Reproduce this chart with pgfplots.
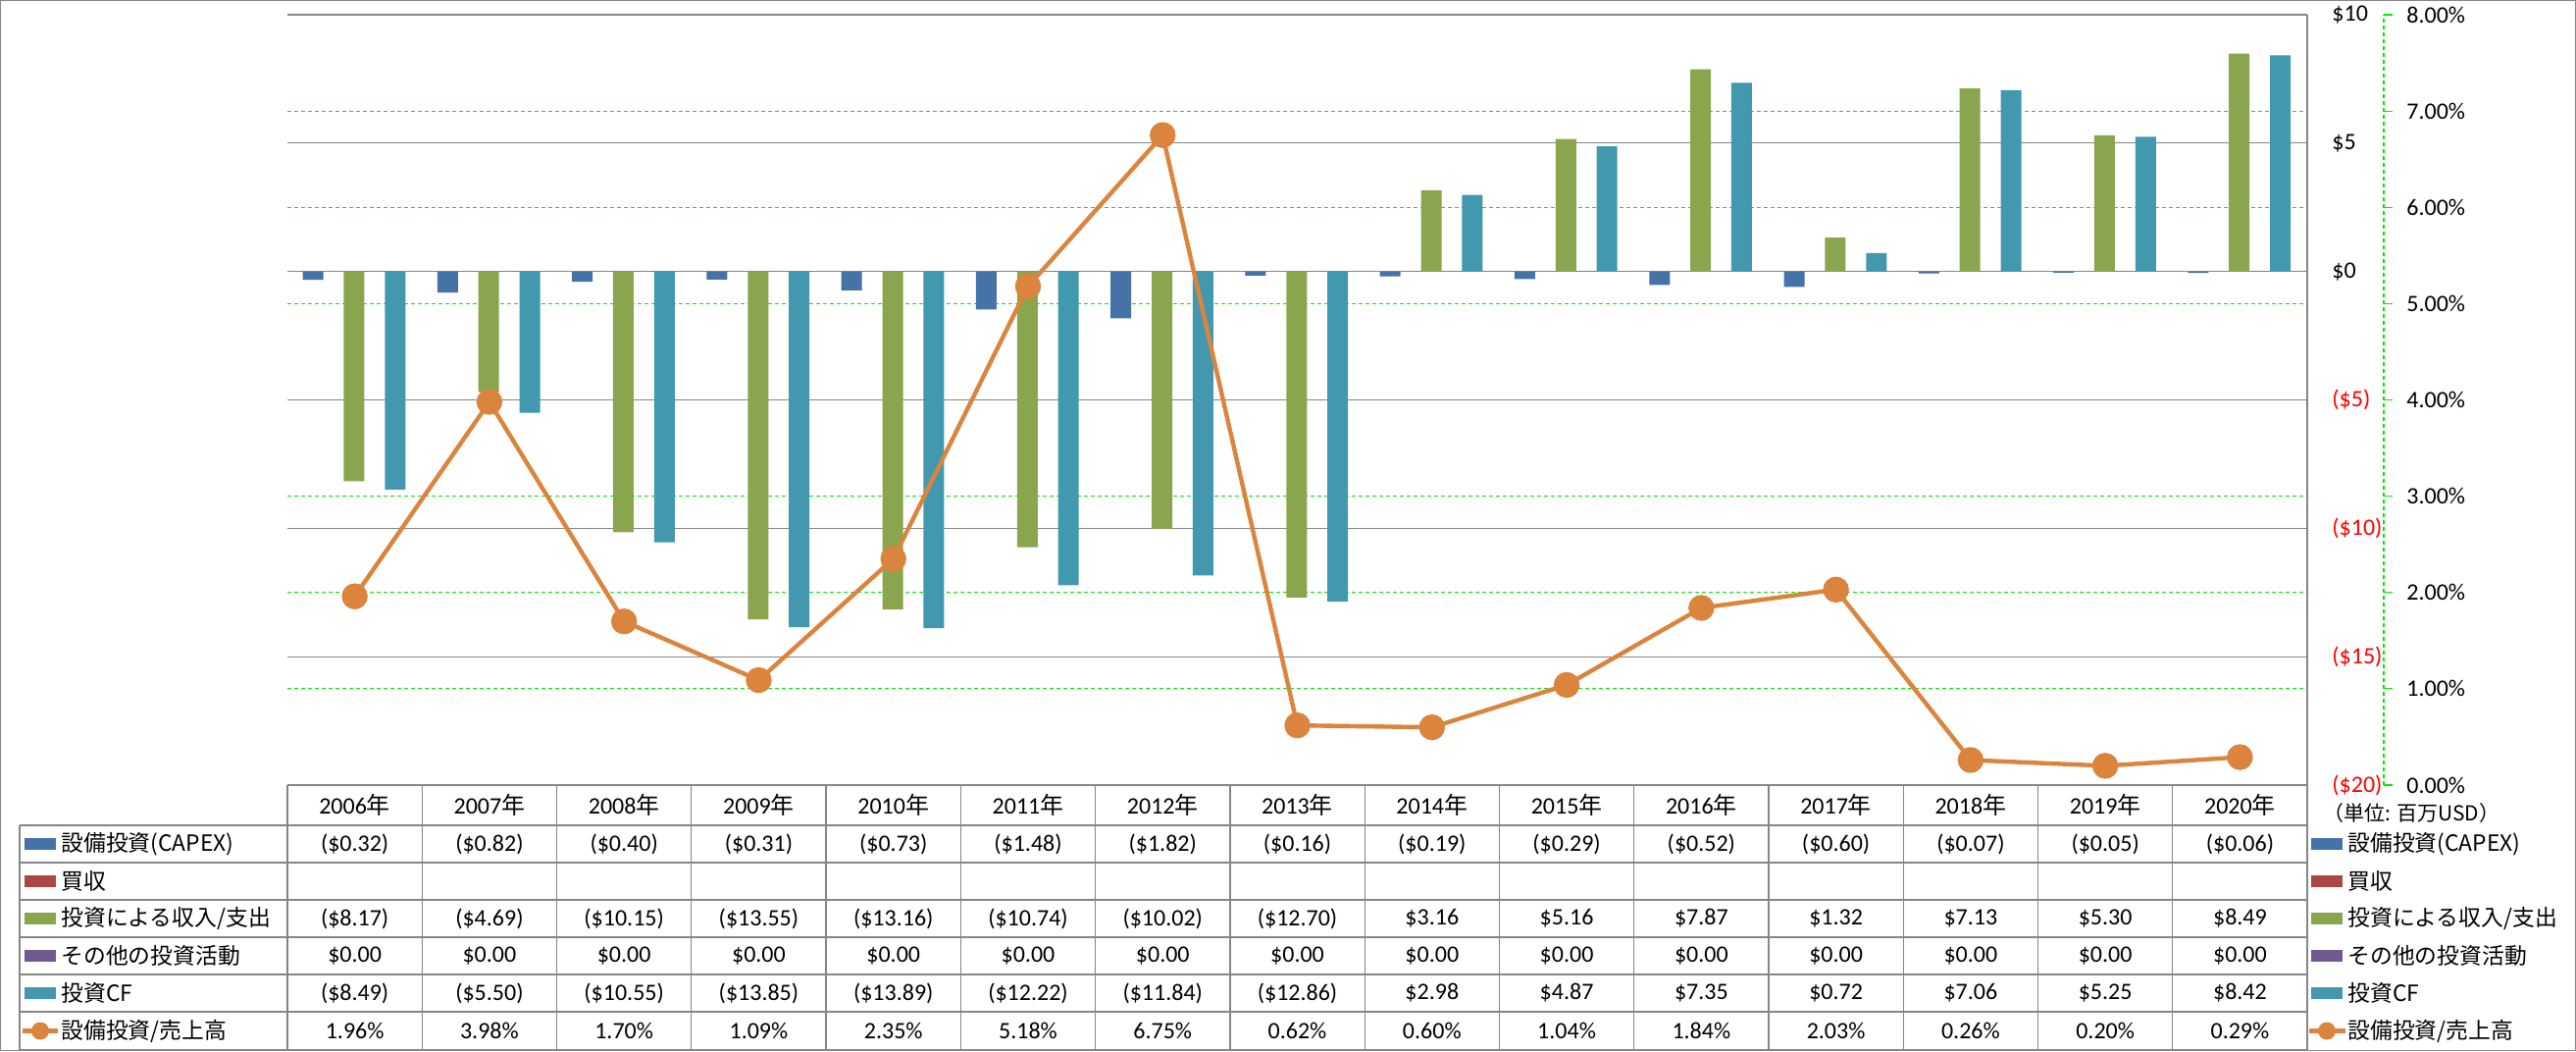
\documentclass[border=0pt]{standalone}
\usepackage{fontspec}
\setmainfont{Carlito}
\newfontfamily\jp{Noto Sans CJK JP}
\usepackage{pgfplots}
\pgfplotsset{compat=1.18}
\definecolor{cCapex}{HTML}{4572A7}
\definecolor{cAcq}{HTML}{AA4643}
\definecolor{cInv}{HTML}{89A54E}
\definecolor{cOth}{HTML}{71588F}
\definecolor{cCF}{HTML}{4198AF}
\definecolor{cLine}{HTML}{DB843D}
\definecolor{gridgray}{RGB}{134,134,134}
\definecolor{gline}{RGB}{0,235,0}
\newcommand\fs{\fontsize{12}{14.4}\selectfont}
\newcommand\lfs{\jp\fontsize{11.4}{13.7}\selectfont}
\newcommand\tabrow[2]{\foreach \v [count=\k from 0] in {#2} {\node[font=\fs, inner sep=0pt] at ({293+137.27*(\k+0.5)},#1) {\v};}}
\begin{document}
\begin{tikzpicture}
\begin{axis}[
 scale only axis, width=1029.5pt, height=392.5pt,
 at={(146.5pt,-400pt)}, anchor=south west,
 xmin=-0.5, xmax=14.5, ymin=-20, ymax=10,
 axis x line=none, axis y line*=right,
 y axis line style={draw=gridgray, line width=0.6pt},
 ytick={-20,-15,-10,-5,0,5,10},
 yticklabels={{\color{red}(\$20)},{\color{red}(\$15)},{\color{red}(\$10)},{\color{red}(\$5)},\$0,\$5,\$10},
 yticklabel style={anchor=west, inner sep=0pt, xshift=12.5pt, font=\fs},
 major tick length=0pt,
 ymajorgrids, major grid style={draw=gridgray, line width=0.6pt},
 extra y ticks={-16.25,-12.5,-8.75,-1.25,2.5,6.25},
 extra y tick labels={},
 extra y tick style={grid=major, major grid style={draw=gline, dash pattern=on 2pt off 1.5pt, line width=0.6pt}},
 clip=false,
]
% 設備投資(CAPEX)
\addplot[ybar, bar width=0.153, bar shift=-0.31, fill=cCapex, draw=none] coordinates {
(0,-0.32) (1,-0.82) (2,-0.40) (3,-0.31) (4,-0.73) (5,-1.48) (6,-1.82) (7,-0.16) (8,-0.19) (9,-0.29) (10,-0.52) (11,-0.60) (12,-0.07) (13,-0.05) (14,-0.06)};
% 投資による収入/支出
\addplot[ybar, bar width=0.153, bar shift=-0.005, fill=cInv, draw=none] coordinates {
(0,-8.17) (1,-4.69) (2,-10.15) (3,-13.55) (4,-13.16) (5,-10.74) (6,-10.02) (7,-12.70) (8,3.16) (9,5.16) (10,7.87) (11,1.32) (12,7.13) (13,5.30) (14,8.49)};
% その他の投資活動
\addplot[ybar, bar width=0.153, bar shift=0.148, fill=cOth, draw=none] coordinates {
(0,0) (1,0) (2,0) (3,0) (4,0) (5,0) (6,0) (7,0) (8,0) (9,0) (10,0) (11,0) (12,0) (13,0) (14,0)};
% 投資CF
\addplot[ybar, bar width=0.153, bar shift=0.30, fill=cCF, draw=none] coordinates {
(0,-8.49) (1,-5.50) (2,-10.55) (3,-13.85) (4,-13.89) (5,-12.22) (6,-11.84) (7,-12.86) (8,2.98) (9,4.87) (10,7.35) (11,0.72) (12,7.06) (13,5.25) (14,8.42)};
\end{axis}
\begin{axis}[
 scale only axis, width=1068.5pt, height=392.5pt,
 at={(146.5pt,-400pt)}, anchor=south west,
 xmin=-0.5, xmax=15.068, ymin=0, ymax=8,
 axis x line=none, axis y line*=right,
 y axis line style={draw=gline, dash pattern=on 2pt off 1.5pt, line width=0.6pt},
 ytick={0,1,2,3,4,5,6,7,8},
 yticklabels={0.00\%,1.00\%,2.00\%,3.00\%,4.00\%,5.00\%,6.00\%,7.00\%,8.00\%},
 tick align=outside, major tick length=4.5pt,
 ytick style={draw=gline, line width=0.6pt},
 yticklabel style={anchor=west, inner sep=0pt, xshift=7pt, font=\fs},
 clip=false,
]
\addplot[cLine, line width=2.2pt, mark=*, mark size=5.5pt, mark options={fill=cLine, draw=cLine, solid}] coordinates {
(0,1.96) (1,3.98) (2,1.70) (3,1.09) (4,2.35) (5,5.18) (6,6.75) (7,0.62) (8,0.60) (9,1.04) (10,1.84) (11,2.03) (12,0.26) (13,0.20) (14,0.29)};
\end{axis}
\begin{scope}[x=0.5pt,y=-0.5pt]
 % outer border
 \draw[gridgray, line width=0.6pt] (0.6,0.6) rectangle (2625.4,1070.4);
 % table lines
 \draw[gridgray, line width=0.6pt] (293,800) -- (2352,800);
 \foreach \y in {841,879,917,955,993,1031,1070} {\draw[gridgray, line width=0.6pt] (20,\y) -- (2352,\y);}
 \draw[gridgray, line width=0.6pt] (20,841) -- (20,1070);
 \foreach \k in {0,...,15} {\draw[gridgray, line width=0.6pt] ({293+137.27*\k},800) -- ({293+137.27*\k},1070);}
 % header
 \foreach \yr [count=\k from 0] in {2006,2007,2008,2009,2010,2011,2012,2013,2014,2015,2016,2017,2018,2019,2020}
  {\node[font=\fs, inner sep=0pt] at ({293+137.27*(\k+0.5)},820.5) {\yr{\jp 年}};}
 % rows
 \tabrow{860}{{(\$0.32)},{(\$0.82)},{(\$0.40)},{(\$0.31)},{(\$0.73)},{(\$1.48)},{(\$1.82)},{(\$0.16)},{(\$0.19)},{(\$0.29)},{(\$0.52)},{(\$0.60)},{(\$0.07)},{(\$0.05)},{(\$0.06)}}
 \tabrow{936}{{(\$8.17)},{(\$4.69)},{(\$10.15)},{(\$13.55)},{(\$13.16)},{(\$10.74)},{(\$10.02)},{(\$12.70)},{\$3.16},{\$5.16},{\$7.87},{\$1.32},{\$7.13},{\$5.30},{\$8.49}}
 \tabrow{974}{{\$0.00},{\$0.00},{\$0.00},{\$0.00},{\$0.00},{\$0.00},{\$0.00},{\$0.00},{\$0.00},{\$0.00},{\$0.00},{\$0.00},{\$0.00},{\$0.00},{\$0.00}}
 \tabrow{1012}{{(\$8.49)},{(\$5.50)},{(\$10.55)},{(\$13.85)},{(\$13.89)},{(\$12.22)},{(\$11.84)},{(\$12.86)},{\$2.98},{\$4.87},{\$7.35},{\$0.72},{\$7.06},{\$5.25},{\$8.42}}
 \tabrow{1050.5}{{1.96\%},{3.98\%},{1.70\%},{1.09\%},{2.35\%},{5.18\%},{6.75\%},{0.62\%},{0.60\%},{1.04\%},{1.84\%},{2.03\%},{0.26\%},{0.20\%},{0.29\%}}
 % row labels (left) and legend (right)
 \foreach \yc/\col/\txt in {860/cCapex/{設備投資(CAPEX)},898/cAcq/{買収},936/cInv/{投資による収入/支出},974/cOth/{その他の投資活動},1012/cCF/{投資CF}}{
  \fill[\col] (25,\yc-6) rectangle (56.7,\yc+6);
  \node[anchor=west, inner sep=0pt, font=\lfs] at (62,\yc) {\txt};
  \fill[\col] (2356,\yc-6) rectangle (2388,\yc+6);
  \node[anchor=west, inner sep=0pt, font=\lfs] at (2393,\yc) {\txt};
 }
 \draw[cLine, line width=2.2pt] (23,1050.5) -- (59,1050.5);
 \fill[cLine] (41,1050.5) circle (4.5pt);
 \node[anchor=west, inner sep=0pt, font=\lfs] at (62,1050.5) {設備投資/売上高};
 \draw[cLine, line width=2.2pt] (2354,1050.5) -- (2391,1050.5);
 \fill[cLine] (2372,1050.5) circle (4.5pt);
 \node[anchor=west, inner sep=0pt, font=\lfs] at (2393,1050.5) {設備投資/売上高};
 \node[anchor=west, inner sep=0pt, font=\jp\fontsize{10.5}{12}\selectfont] at (2368,829) {（単位: 百万USD）};
\end{scope}
\pgfresetboundingbox
\path[use as bounding box] (0,0) rectangle (1313pt,-535.5pt);
\end{tikzpicture}
\end{document}
